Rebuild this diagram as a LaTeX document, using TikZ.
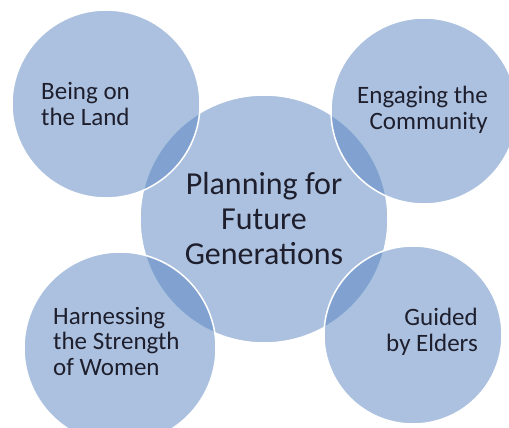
\documentclass[tikz,border=0pt]{standalone}
\usepackage{fontspec}
\setmainfont{Carlito}

\definecolor{venn}{RGB}{87,132,192}
\definecolor{ink}{RGB}{30,30,45}

\begin{document}
\begin{tikzpicture}[x=1pt,y=1pt,
    bubble/.style={circle,fill=venn,fill opacity=.5,text opacity=1,draw=white,line width=1.5pt,inner sep=0pt,outer sep=0pt},
    hub/.style={font=\fontsize{32}{35}\selectfont,text=ink,align=center},
    petal/.style={font=\fontsize{25}{25.5}\selectfont,text=ink,inner sep=0pt}]

      \useasboundingbox (0,0) rectangle (509,428);
      \clip (0,0) rectangle (509,428);

      % middle circle first, the four others overlap it
      \node[bubble,minimum size=248pt,hub] (plan)   at (264,209) {Planning for\\Future\\Generations};
      \node[bubble,minimum size=188pt]     (land)   at (106,324) {};
      \node[bubble,minimum size=186pt]     (comm)   at (424,317) {};
      \node[bubble,minimum size=192pt]     (women)  at (120,80)  {};
      \node[bubble,minimum size=178pt]     (elders) at (413,93)  {};

      \node[petal,align=left,anchor=west]  (landtxt)   at (41,324)  {Being on\\the Land};
      \node[petal,align=right,anchor=east] (commtxt)   at (488,318) {Engaging the\\Community};
      \node[petal,align=left,anchor=west]  (womentxt)  at (53,87)   {Harnessing\\the Strength\\of Women};
      \node[petal,align=right,anchor=east] (elderstxt) at (478,96)  {Guided\\by Elders};
    \end{tikzpicture}
\end{document}
